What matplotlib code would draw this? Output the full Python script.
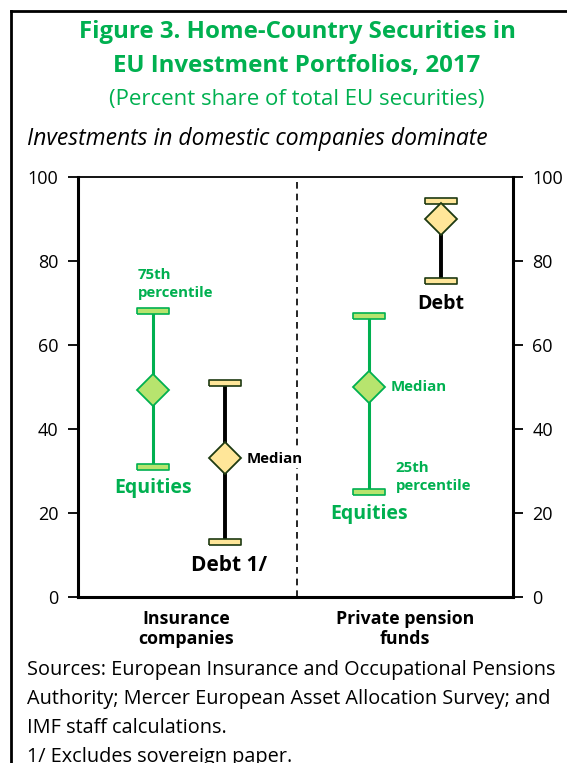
import matplotlib
matplotlib.use("Agg")
import matplotlib.pyplot as plt
from matplotlib.transforms import blended_transform_factory

plt.rcParams["font.family"] = ["Open Sans", "DejaVu Sans"]

# Data: 25th percentile, median, 75th percentile (percent share)
groups = ["Insurance\ncompanies", "Private pension\nfunds"]
equities_p25 = [31.0, 25.0]
equities_med = [49.3, 50.0]
equities_p75 = [68.1, 66.9]
debt_p25 = [13.0, 75.3]
debt_med = [33.0, 90.0]
debt_p75 = [51.0, 94.4]

equity_x = [1, 4]
debt_x = [2, 5]
divider_x = 3
group_x = [1.45, 4.5]

GREEN = "#00B050"
LIGHT_GREEN = "#B7E46E"
YELLOW = "#FFE699"
DARK = "#1E3A12"

W, H = 567, 763
fig = plt.figure(figsize=(W / 100, H / 100), dpi=100)


def fx(px):
    return px / W


def fy(py):
    return 1 - py / H


ax = fig.add_axes([fx(78), fy(597), fx(513) - fx(78), fy(177) - fy(597)])
ax.set_xlim(-0.05, 6.0)
ax.set_ylim(0, 100)

cap_marker = [(-1, -0.19), (1, -0.19), (1, 0.19), (-1, 0.19), (-1, -0.19)]


def draw_range(xs, lo, med, hi, line_c, fill_c, edge_c, lw):
    for x, a, m, b in zip(xs, lo, med, hi):
        ax.plot([x, x], [a, b], color=line_c, lw=lw, zorder=2, solid_capstyle="butt")
        ax.plot([x, x], [a, b], ls="none", marker=cap_marker, ms=23,
                mfc=fill_c, mec=edge_c, mew=1.2, zorder=3)
        ax.plot([x], [m], ls="none", marker="D", ms=16,
                mfc=fill_c, mec=edge_c, mew=1.3, zorder=4)


draw_range(equity_x, equities_p25, equities_med, equities_p75, GREEN, LIGHT_GREEN, GREEN, 2.2)
draw_range(debt_x, debt_p25, debt_med, debt_p75, "black", YELLOW, DARK, 2.8)

ax.axvline(divider_x, color="black", lw=1.2, ls=(0, (4, 3)), zorder=1)

for s in ax.spines.values():
    s.set_linewidth(1.3)
ax.spines["left"].set_linewidth(2.2)
ax.spines["right"].set_linewidth(2.2)
ax.spines["bottom"].set_linewidth(2.2)

ax.set_yticks(range(0, 101, 20))
ax.tick_params(axis="y", which="both", direction="out", length=7, width=1.3,
               labelsize=13, left=True, right=True, labelleft=True, labelright=True, pad=7)
ax.set_xticks([])

tr = blended_transform_factory(ax.transData, ax.transAxes)
for gx, name in zip(group_x, groups):
    ax.text(gx, -0.03, name, transform=tr, ha="center", va="top",
            fontsize=12.8, fontweight="bold", linespacing=1.2)

# annotations
ax.text(0.78, 74.5, "75th\npercentile", color=GREEN, fontsize=10.8, fontweight="bold",
        ha="left", va="center", linespacing=1.3)
ax.text(1.0, 26.0, "Equities", color=GREEN, fontsize=14, fontweight="bold",
        ha="center", va="center")
ax.text(2.3, 32.9, "Median", color="black", fontsize=10.8, fontweight="bold",
        ha="left", va="center", zorder=5,
        bbox=dict(facecolor="white", edgecolor="none", pad=1.5))
ax.text(2.05, 7.5, "Debt 1/", color="black", fontsize=15, fontweight="bold",
        ha="center", va="center")
ax.text(4.3, 50.0, "Median", color=GREEN, fontsize=10.8, fontweight="bold",
        ha="left", va="center")
ax.text(4.37, 28.6, "25th\npercentile", color=GREEN, fontsize=10.8, fontweight="bold",
        ha="left", va="center", linespacing=1.3)
ax.text(4.0, 19.8, "Equities", color=GREEN, fontsize=14, fontweight="bold",
        ha="center", va="center")
ax.text(5.0, 69.8, "Debt", color="black", fontsize=14, fontweight="bold",
        ha="center", va="center")

# titles
fig.text(fx(297), fy(32), "Figure 3. Home-Country Securities in", color=GREEN,
         fontsize=17.3, fontweight="bold", ha="center", va="center")
fig.text(fx(297), fy(66), "EU Investment Portfolios, 2017", color=GREEN,
         fontsize=17.3, fontweight="bold", ha="center", va="center")
fig.text(fx(297), fy(100), "(Percent share of total EU securities)", color=GREEN,
         fontsize=16, ha="center", va="center")
fig.text(fx(27), fy(139), "Investments in domestic companies dominate", color="black",
         fontsize=16.5, style="italic", ha="left", va="center")

notes = [
    "Sources: European Insurance and Occupational Pensions",
    "Authority; Mercer European Asset Allocation Survey; and",
    "IMF staff calculations.",
    "1/ Excludes sovereign paper.",
]
for i, line in enumerate(notes):
    fig.text(fx(27), fy(670 + 29 * i), line, fontsize=14.3, ha="left", va="center")

# frame (left and top edges visible)
fig.add_artist(plt.Line2D([fx(11), fx(11)], [fy(11), 0], color="black", lw=2,
                          transform=fig.transFigure))
fig.add_artist(plt.Line2D([fx(11), 1], [fy(11), fy(11)], color="black", lw=2,
                          transform=fig.transFigure))

fig.savefig("out.png", dpi=100, facecolor="white")
